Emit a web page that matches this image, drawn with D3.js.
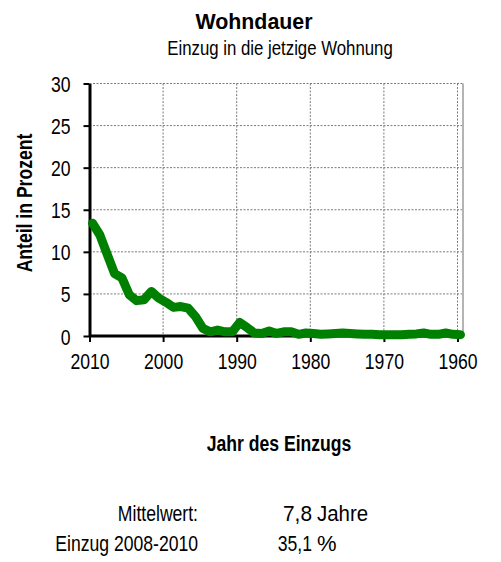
<!DOCTYPE html>
<html>
<head>
<meta charset="utf-8">
<script src="https://cdn.jsdelivr.net/npm/d3@7/dist/d3.min.js"></script>
<style>
  body { margin: 0; background: #fff; }
  svg text { font-family: "Liberation Sans", Arial, sans-serif; fill: #000; }
</style>
</head>
<body>
<div id="chart"></div>
<script>
// Anteil der Haushalte nach Jahr des Einzugs (Prozent)
const years = [2010, 2009, 2008, 2007, 2006, 2005, 2004, 2003, 2002, 2001,
               2000, 1999, 1998, 1997, 1996, 1995, 1994, 1993, 1992, 1991,
               1990, 1989, 1988, 1987, 1986, 1985, 1984, 1983, 1982, 1981,
               1980, 1979, 1978, 1977, 1976, 1975, 1974, 1973, 1972, 1971,
               1970, 1969, 1968, 1967, 1966, 1965, 1964, 1963, 1962, 1961, 1960];
const shares = [13.4, 12.0, 9.7, 7.4, 6.9, 4.9, 4.2, 4.3, 5.3, 4.5,
                4.0, 3.4, 3.5, 3.3, 2.3, 0.9, 0.5, 0.7, 0.5, 0.5,
                1.6, 1.0, 0.35, 0.3, 0.6, 0.3, 0.5, 0.5, 0.2, 0.35,
                0.3, 0.2, 0.25, 0.3, 0.35, 0.3, 0.25, 0.2, 0.2, 0.15,
                0.15, 0.15, 0.15, 0.2, 0.25, 0.35, 0.2, 0.2, 0.35, 0.2, 0.15];
const xTicks = [2010, 2000, 1990, 1980, 1970, 1960];
const yTicks = [0, 5, 10, 15, 20, 25, 30];
const statLabels = ['Mittelwert:', 'Einzug 2008-2010'];
const statValues = ['7,8', '35,1'];
const statUnits = ['Jahre', '%'];

const data = years.map((y, i) => ({ year: y, value: shares[i] }));

const width = 501, height = 562;
const plot = { left: 89.5, right: 457.5, top: 83.5, bottom: 336 };
const squeeze = 0.8;   // die Schrift im Original ist horizontal gestaucht

const svg = d3.select('#chart').append('svg')
  .attr('width', width)
  .attr('height', height);

const x = d3.scaleLinear().domain([2010, 1960]).range([plot.left, plot.right]);
const y = d3.scaleLinear().domain([0, 30]).range([plot.bottom, plot.top]);
const dataShift = 3;   // Punkte liegen leicht rechts der Jahresmarken

// Hilfsfunktion: Text platzieren und horizontal stauchen
function label(g, txt, px, py, opts = {}) {
  const k = opts.k || squeeze;
  const rot = opts.rotate ? ` rotate(${opts.rotate})` : '';
  return g.append('text')
    .attr('transform', `translate(${px},${py})${rot} scale(${k},1)`)
    .attr('text-anchor', opts.anchor || 'middle')
    .style('font-size', (opts.size || 22) + 'px')
    .style('font-weight', opts.bold ? 'bold' : 'normal')
    .text(txt);
}

// Gitterlinien
const grid = svg.append('g').attr('class', 'grid');
grid.selectAll('line.h')
  .data(yTicks.filter(d => d > 0))
  .enter().append('line')
  .attr('class', 'h')
  .attr('x1', plot.left).attr('x2', 463)
  .attr('y1', d => y(d)).attr('y2', d => y(d))
  .attr('stroke', '#7a7a7a').attr('stroke-width', 1).attr('stroke-dasharray', '2,1.5');
grid.selectAll('line.v')
  .data(xTicks.filter(d => d < 2010))
  .enter().append('line')
  .attr('class', 'v')
  .attr('x1', d => x(d)).attr('x2', d => x(d))
  .attr('y1', plot.top).attr('y2', plot.bottom)
  .attr('stroke', '#7a7a7a').attr('stroke-width', 1).attr('stroke-dasharray', '2,1.5');

// rechter Rahmen
svg.append('line')
  .attr('x1', 463).attr('x2', 463)
  .attr('y1', plot.top).attr('y2', plot.bottom)
  .attr('stroke', '#b4b4b4').attr('stroke-width', 2);

// Achsen
const yAxis = svg.append('g')
  .attr('transform', `translate(${plot.left},0)`)
  .call(d3.axisLeft(y).tickValues(yTicks).tickSize(6).tickSizeOuter(0).tickPadding(0));
yAxis.select('.domain').attr('stroke', '#000').attr('stroke-width', 3);
yAxis.selectAll('.tick line').attr('stroke', '#000').attr('stroke-width', 2);
yAxis.selectAll('.tick text').remove();
yAxis.selectAll('.tick').each(function (d) {
  label(d3.select(this), d, -19, 8, { anchor: 'end' });
});

const xAxis = svg.append('g')
  .attr('transform', `translate(0,${plot.bottom})`)
  .call(d3.axisBottom(x).tickValues(xTicks).tickSize(6).tickSizeOuter(0));
xAxis.select('.domain').attr('d', `M${plot.left},0H463`).attr('stroke', '#000').attr('stroke-width', 3);
xAxis.selectAll('.tick line').attr('stroke', '#000').attr('stroke-width', 2);
xAxis.selectAll('.tick text').remove();
xAxis.selectAll('.tick').each(function (d) {
  label(d3.select(this), d, 0, 33);
});

// Datenlinie
const line = d3.line()
  .x(d => x(d.year) + dataShift)
  .y(d => y(d.value));

svg.append('path')
  .datum(data)
  .attr('d', line)
  .attr('fill', 'none')
  .attr('stroke', '#008000')
  .attr('stroke-width', 9)
  .attr('stroke-linejoin', 'round')
  .attr('stroke-linecap', 'round');

// Titel und Achsentitel
label(svg, 'Wohndauer', 254, 29, { bold: true, size: 23, k: 0.93 });
label(svg, 'Einzug in die jetzige Wohnung', 280, 55, { size: 21 });
label(svg, 'Anteil in Prozent', 32, 203, { bold: true, rotate: -90 });
label(svg, 'Jahr des Einzugs', 279, 451, { bold: true });

// Kennzahlen
const valueSqueeze = [0.95, 0.8];
const unitSqueeze = [0.93, 1.0];
const stats = svg.append('g');
statLabels.forEach((s, i) => {
  const by = 521 + i * 29.5;
  label(stats, s, 198, by, { anchor: 'end' });
  label(stats, statValues[i], 312, by, { anchor: 'end', k: valueSqueeze[i] });
  label(stats, statUnits[i], 317, by, { anchor: 'start', k: unitSqueeze[i] });
});
</script>
</body>
</html>
